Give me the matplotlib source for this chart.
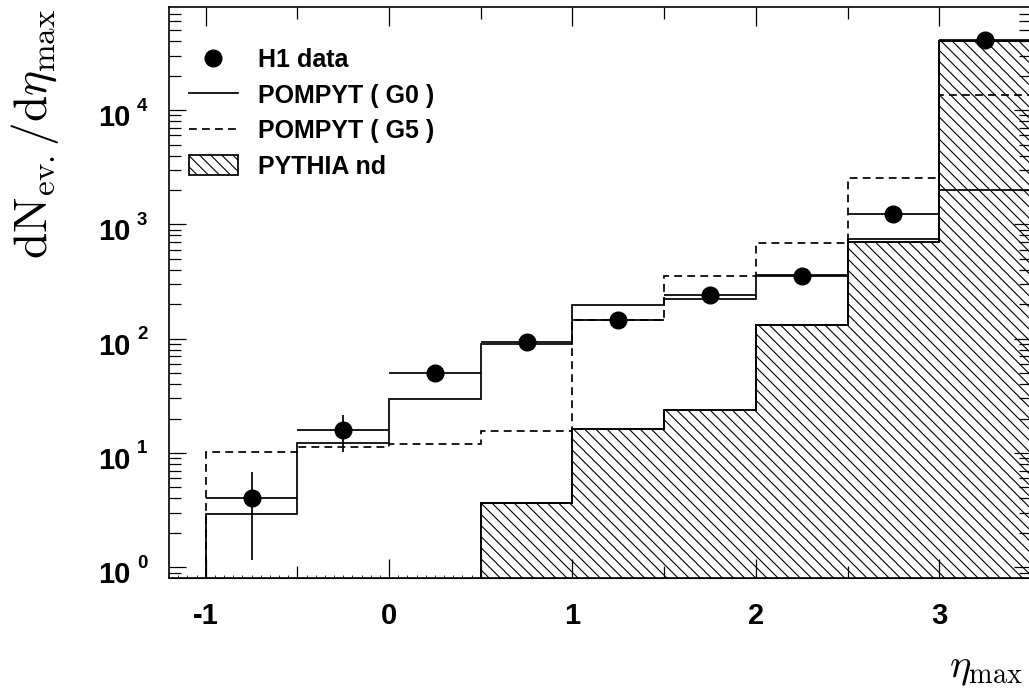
import numpy as np
import matplotlib
matplotlib.use("Agg")
import matplotlib.pyplot as plt
import matplotlib.transforms as mtransforms
from matplotlib.ticker import MultipleLocator, LogLocator, NullFormatter
from matplotlib.lines import Line2D
from matplotlib.patches import Patch

plt.rcParams['font.family'] = ['Liberation Sans', 'DejaVu Sans']
plt.rcParams['font.weight'] = 'bold'
plt.rcParams['mathtext.fontset'] = 'cm'
plt.rcParams['axes.unicode_minus'] = False
plt.rcParams['hatch.linewidth'] = 0.8

# bin edges in eta_max and bin centres
bin_edges = [-1.0, -0.5, 0.0, 0.5, 1.0, 1.5, 2.0, 2.5, 3.0, 3.5]
bin_centres = [-0.75, -0.25, 0.25, 0.75, 1.25, 1.75, 2.25, 2.75, 3.25]

# H1 data
h1_data = [4.0, 16.0, 50.0, 94.0, 145.0, 240.0, 354.0, 1230.0, 40800.0]
h1_err_lo = [2.83, 5.7, 6.0, 8.0, 10.0, 14.0, 18.0, 40.0, 250.0]
h1_err_hi = [2.76, 5.5, 6.0, 8.0, 10.0, 14.0, 18.0, 40.0, 250.0]

# POMPYT predictions
pompyt_g0 = [2.94, 12.2, 29.5, 89.0, 196.0, 221.0, 362.0, 744.0, 2000.0]
pompyt_g5 = [10.2, 11.3, 12.1, 15.5, 146.0, 356.0, 690.0, 2560.0, 13600.0]

# PYTHIA non-diffractive (empty below eta_max = 0.5)
pythia_edges = [0.5, 1.0, 1.5, 2.0, 2.5, 3.0, 3.5]
pythia_nd = [3.64, 16.3, 24.0, 133.0, 703.0, 40000.0]

W, H, dpi = 1029, 696, 100
fig = plt.figure(figsize=(W / dpi, H / dpi), dpi=dpi)
ax = fig.add_axes([169 / W, 1 - 578 / H, (1031 - 169) / W, (578 - 7) / H])

ax.set_yscale('log')
ax.set_xlim(-1.2, 3.5)
ax.set_ylim(0.806, 79800)

lw = 1.25
ax.stairs(pythia_nd, pythia_edges, baseline=0.5, fill=True, facecolor='white',
          edgecolor='black', hatch='\\\\\\', linewidth=lw, zorder=1)
ax.stairs(pythia_nd, pythia_edges, baseline=0.5, color='black', linewidth=lw, zorder=2)
ax.stairs(pompyt_g0, bin_edges, baseline=0.5, color='black', linewidth=lw, zorder=3)
ax.stairs(pompyt_g5, bin_edges, baseline=0.5, color='black', linewidth=lw,
          linestyle=(0, (4.5, 3)), zorder=3)
ax.errorbar(bin_centres, h1_data, yerr=[h1_err_lo, h1_err_hi], xerr=0.25,
            fmt='o', color='black', markersize=12, elinewidth=lw, capsize=0, zorder=4)

# axes frame and ticks
for s in ax.spines.values():
    s.set_linewidth(1.2)
ax.xaxis.set_major_locator(MultipleLocator(1))
ax.xaxis.set_minor_locator(MultipleLocator(0.5))
ax.tick_params(axis='x', which='major', direction='in', length=13.5, width=0.9,
               top=True, labelsize=21, pad=17)
ax.tick_params(axis='x', which='minor', direction='in', length=8.5, width=0.9, top=True)
ax.yaxis.set_major_locator(LogLocator(base=10, numticks=10))
ax.yaxis.set_minor_locator(LogLocator(base=10, subs=np.arange(2, 10), numticks=20))
ax.yaxis.set_minor_formatter(NullFormatter())
ax.tick_params(axis='y', which='major', direction='in', length=12.5, width=0.9,
               right=True, labelleft=False)
ax.tick_params(axis='y', which='minor', direction='in', length=8.5, width=0.9, right=True)

# fine ticks along the bottom
sec = ax.secondary_xaxis('bottom')
sec.xaxis.set_major_locator(MultipleLocator(0.05))
sec.tick_params(direction='in', length=2.2, width=0.6, labelbottom=False)

# y tick labels in "10 ^k" style
trans = mtransforms.blended_transform_factory(fig.transFigure, ax.transData)
for k in range(5):
    t1 = trans + mtransforms.ScaledTranslation(0, -8 / dpi, fig.dpi_scale_trans)
    t2 = trans + mtransforms.ScaledTranslation(0, 4 / dpi, fig.dpi_scale_trans)
    fig.text(131 / W, 10 ** k, '10', transform=t1, ha='right', va='center',
             fontsize=21, fontweight='bold')
    fig.text(137 / W, 10 ** k, str(k), transform=t2, ha='left', va='center',
             fontsize=13.5, fontweight='bold')

# axis titles
fig.text(35 / W, 1 - 9 / H, r'$\mathrm{dN_{ev.}/d}\eta_{\mathrm{max}}$', rotation=90,
         ha='center', va='top', fontsize=34)
fig.text(1023 / W, 1 - 677 / H, r'$\eta_{\mathrm{max}}$', ha='right', va='baseline',
         fontsize=29)

handles = [
    Line2D([], [], marker='o', color='black', linestyle='none', markersize=12),
    Line2D([], [], color='black', linewidth=lw),
    Line2D([], [], color='black', linewidth=lw, linestyle=(0, (4.5, 3))),
    Patch(facecolor='white', edgecolor='black', hatch='\\\\\\', linewidth=lw),
]
labels = ['H1 data', 'POMPYT ( G0 )', 'POMPYT ( G5 )', 'PYTHIA nd']
ax.legend(handles, labels, loc='upper left', bbox_to_anchor=(189 / W, 1 - 48 / H),
          bbox_transform=fig.transFigure, frameon=False,
          handlelength=1.95, handletextpad=0.8, labelspacing=0.46, handleheight=0.85,
          borderpad=0, borderaxespad=0, prop={'weight': 'bold', 'size': 18})

fig.savefig('out.png', dpi=dpi)
